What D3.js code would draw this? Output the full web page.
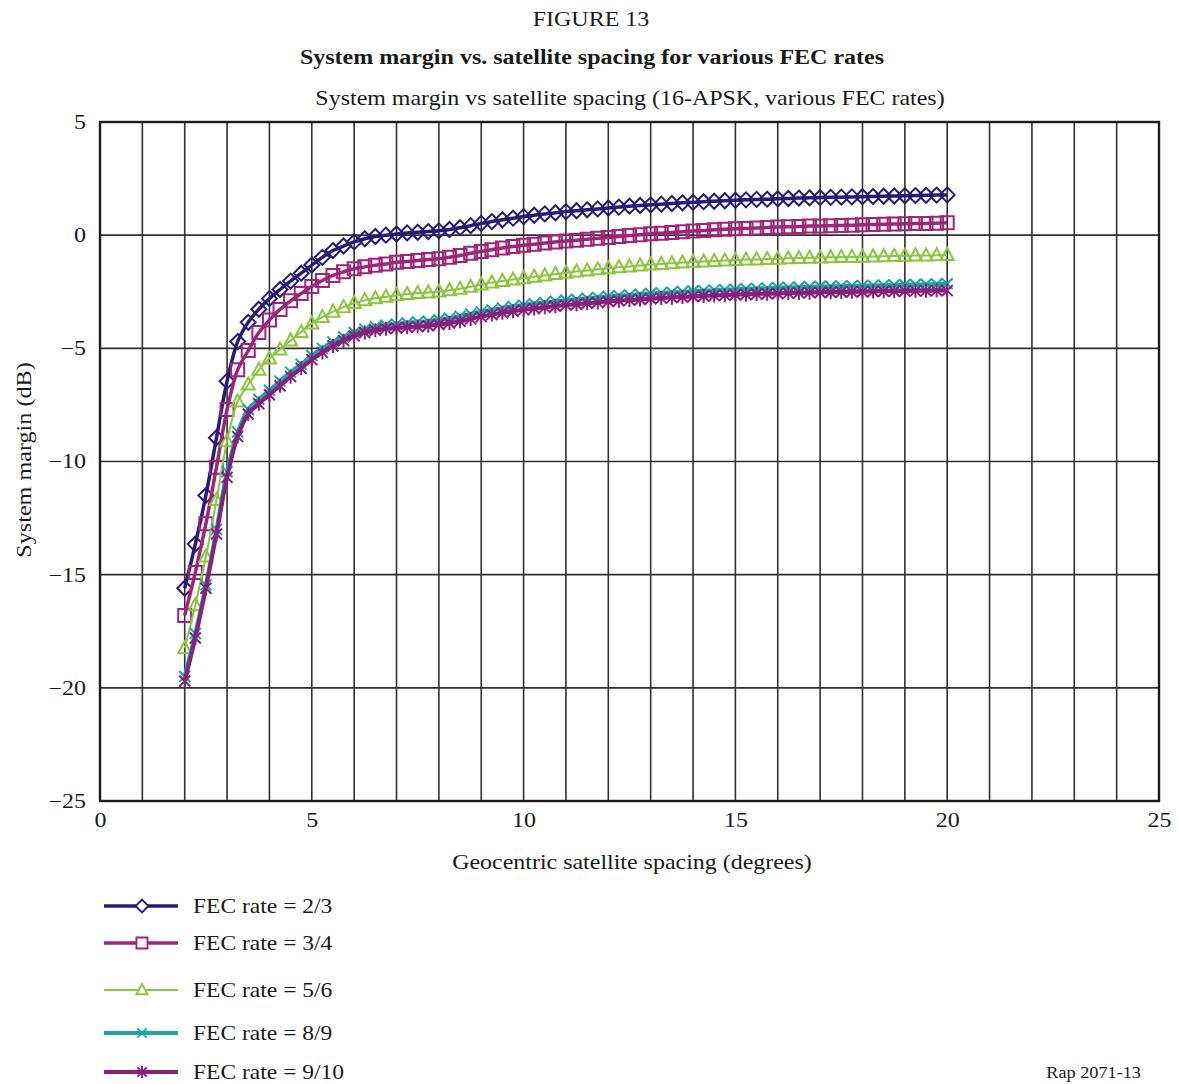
<!DOCTYPE html>
<html>
<head>
<meta charset="utf-8">
<script src="https://cdn.jsdelivr.net/npm/d3@7"></script>
<style>
  html, body { margin: 0; padding: 0; background: #fff; }
  svg { display: block; font-family: "Liberation Serif", "Times New Roman", serif; }
</style>
</head>
<body>
<svg id="chart" width="1179" height="1084"></svg>
<script>
// Geocentric spacing (degrees), 2 to 20 in 0.25° steps
const spacing = d3.range(2, 20.001, 0.25);

// System margin (dB) per FEC rate
const fec23 = [
  -15.6, -13.65, -11.5, -8.95, -6.45, -4.7, -3.85, -3.27, -2.8, -2.4,
  -2.03, -1.68, -1.32, -0.98, -0.68, -0.48, -0.3, -0.16, -0.06, 0.0,
  0.05, 0.1, 0.13, 0.16, 0.19, 0.25, 0.33, 0.42, 0.52, 0.6,
  0.68, 0.75, 0.82, 0.88, 0.94, 0.99, 1.04, 1.08, 1.12, 1.16,
  1.2, 1.24, 1.28, 1.31, 1.34, 1.37, 1.4, 1.43, 1.45, 1.48,
  1.5, 1.52, 1.54, 1.56, 1.58, 1.59, 1.61, 1.62, 1.64, 1.65,
  1.66, 1.67, 1.68, 1.69, 1.7, 1.71, 1.72, 1.73, 1.74, 1.75,
  1.76, 1.77, 1.78
];
const fec34 = [
  -16.8, -14.9, -12.75, -10.25, -7.7, -5.95, -5.1, -4.3, -3.75, -3.28,
  -2.9, -2.58, -2.27, -2.0, -1.78, -1.62, -1.48, -1.4, -1.33, -1.27,
  -1.2, -1.16, -1.12, -1.08, -1.04, -0.98, -0.9, -0.8, -0.72, -0.64,
  -0.57, -0.5, -0.45, -0.4, -0.35, -0.3, -0.26, -0.22, -0.18, -0.14,
  -0.1, -0.06, -0.02, 0.02, 0.06, 0.09, 0.12, 0.15, 0.18, 0.21,
  0.24, 0.26, 0.28, 0.3, 0.32, 0.34, 0.36, 0.37, 0.38, 0.4,
  0.41, 0.42, 0.43, 0.44, 0.46, 0.47, 0.48, 0.49, 0.5, 0.51,
  0.52, 0.53, 0.55
];
const fec56 = [
  -18.25, -16.35, -14.2, -11.7, -9.1, -7.35, -6.6, -5.95, -5.45, -5.05,
  -4.65, -4.28, -3.9, -3.62, -3.38, -3.18, -3.0, -2.88, -2.79, -2.72,
  -2.65, -2.6, -2.56, -2.53, -2.49, -2.43, -2.37, -2.28, -2.18, -2.09,
  -2.02, -1.96, -1.9, -1.84, -1.78, -1.72, -1.66, -1.61, -1.56, -1.51,
  -1.46, -1.42, -1.38, -1.34, -1.3, -1.27, -1.24, -1.21, -1.18, -1.16,
  -1.14, -1.12, -1.1, -1.08, -1.07, -1.05, -1.04, -1.02, -1.01, -1.0,
  -0.99, -0.98, -0.97, -0.96, -0.95, -0.94, -0.93, -0.92, -0.91, -0.9,
  -0.9, -0.89, -0.88
];
const fec89 = [
  -19.5, -17.6, -15.45, -13.0, -10.45, -8.7, -7.7, -7.25, -6.85, -6.45,
  -6.05, -5.7, -5.32, -5.0, -4.72, -4.5, -4.3, -4.15, -4.05, -3.98,
  -3.93, -3.88, -3.84, -3.8, -3.74, -3.67, -3.58, -3.48, -3.39, -3.3,
  -3.22, -3.15, -3.09, -3.03, -2.97, -2.92, -2.87, -2.83, -2.79, -2.75,
  -2.71, -2.67, -2.64, -2.61, -2.58, -2.55, -2.52, -2.5, -2.47, -2.45,
  -2.43, -2.41, -2.39, -2.37, -2.35, -2.34, -2.32, -2.31, -2.29, -2.28,
  -2.27, -2.26, -2.25, -2.24, -2.23, -2.22, -2.21, -2.2, -2.19, -2.18,
  -2.17, -2.16, -2.15
];
const fec910 = [
  -19.7, -17.8, -15.6, -13.2, -10.7, -8.9, -7.9, -7.45, -7.05, -6.65,
  -6.25, -5.88, -5.5, -5.18, -4.9, -4.66, -4.45, -4.3, -4.2, -4.13,
  -4.1, -4.07, -4.04, -4.0, -3.95, -3.88, -3.8, -3.7, -3.6, -3.51,
  -3.43, -3.36, -3.3, -3.24, -3.19, -3.14, -3.09, -3.05, -3.01, -2.97,
  -2.93, -2.9, -2.87, -2.84, -2.81, -2.78, -2.76, -2.73, -2.71, -2.69,
  -2.67, -2.65, -2.63, -2.62, -2.6, -2.59, -2.58, -2.56, -2.55, -2.54,
  -2.53, -2.52, -2.51, -2.5, -2.5, -2.49, -2.48, -2.48, -2.47, -2.46,
  -2.46, -2.45, -2.45
];

const xTicks = [0, 5, 10, 15, 20, 25];
const yTicks = [5, 0, -5, -10, -15, -20, -25];

const series = [
  { name: "FEC rate = 2/3",  values: fec23,  color: "#2a1a78", width: 3.5, marker: "diamond",  legendY: 906 },
  { name: "FEC rate = 3/4",  values: fec34,  color: "#a0237c", width: 3.5, marker: "square",   legendY: 943 },
  { name: "FEC rate = 5/6",  values: fec56,  color: "#8cc63e", width: 2,   marker: "triangle", legendY: 990 },
  { name: "FEC rate = 8/9",  values: fec89,  color: "#19a7a8", width: 4,   marker: "cross",    legendY: 1033 },
  { name: "FEC rate = 9/10", values: fec910, color: "#871f7c", width: 4,   marker: "star",     legendY: 1072 }
];

const svg = d3.select("#chart");
const plot = { left: 100, right: 1159, top: 122, bottom: 801 };
const x = d3.scaleLinear().domain([0, 25]).range([plot.left, plot.right]);
const y = d3.scaleLinear().domain([-25, 5]).range([plot.bottom, plot.top]);

// The typeface set here is a little wider than Liberation Serif: stretch glyphs to width
function widen(sel, factor) {
  sel.each(function () {
    const w = this.getComputedTextLength();
    d3.select(this).attr("textLength", w * factor).attr("lengthAdjust", "spacingAndGlyphs");
  });
  return sel;
}

// Marker shapes, centred on 0,0
const markerPath = {
  diamond:  "M0,-7.5L7.5,0L0,7.5L-7.5,0Z",
  square:   "M-6.5,-6.5H6.5V6.5H-6.5Z",
  triangle: "M0,-7L6.5,5L-6.5,5Z",
  cross:    "M-5.5,-5.5L5.5,5.5M-5.5,5.5L5.5,-5.5",
  star:     "M-5.5,-5.5L5.5,5.5M-5.5,5.5L5.5,-5.5M0,-7V7"
};

// Titles
widen(svg.append("text").attr("x", 591).attr("y", 26).attr("text-anchor", "middle")
  .attr("font-size", 20).attr("fill", "#1a1a1a").text("FIGURE 13"), 1.2);
widen(svg.append("text").attr("x", 592).attr("y", 64).attr("text-anchor", "middle")
  .attr("font-size", 20).attr("font-weight", "bold").attr("fill", "#1a1a1a")
  .text("System margin vs. satellite spacing for various FEC rates"), 1.2);
widen(svg.append("text").attr("x", 630).attr("y", 105).attr("text-anchor", "middle")
  .attr("font-size", 21).attr("fill", "#1a1a1a")
  .text("System margin vs satellite spacing (16-APSK, various FEC rates)"), 1.14);

// Grid
const grid = svg.append("g").attr("stroke", "#33302e").attr("stroke-width", 1.6);
grid.selectAll("line.v").data(d3.range(1, 25)).join("line").attr("class", "v")
  .attr("x1", d => x(d)).attr("x2", d => x(d)).attr("y1", plot.top).attr("y2", plot.bottom);
grid.selectAll("line.h").data(yTicks.filter(v => v > -25 && v < 5)).join("line").attr("class", "h")
  .attr("x1", plot.left).attr("x2", plot.right).attr("y1", d => y(d)).attr("y2", d => y(d));

// Frame
svg.append("rect").attr("x", plot.left).attr("y", plot.top)
  .attr("width", plot.right - plot.left).attr("height", plot.bottom - plot.top)
  .attr("fill", "none").attr("stroke", "#1e1a18").attr("stroke-width", 2.4);

// Axes
const xAxis = svg.append("g").attr("transform", `translate(0,${plot.bottom})`)
  .call(d3.axisBottom(x).tickValues(xTicks).tickSize(0).tickPadding(12).tickFormat(d3.format("d")));
const yAxis = svg.append("g").attr("transform", `translate(${plot.left},0)`)
  .call(d3.axisLeft(y).tickValues(yTicks).tickSize(0).tickPadding(14)
    .tickFormat(d => d < 0 ? "\u2212" + Math.abs(d) : String(d)));
[xAxis, yAxis].forEach(a => {
  a.select(".domain").remove();
  const t = a.selectAll("text").attr("font-family", "Liberation Serif, serif")
    .attr("font-size", 20).attr("fill", "#1a1a1a");
  widen(t, 1.2);
});

widen(svg.append("text").attr("x", 632).attr("y", 869).attr("text-anchor", "middle")
  .attr("font-size", 21).attr("fill", "#1a1a1a").text("Geocentric satellite spacing (degrees)"), 1.14);
widen(svg.append("text").attr("transform", "translate(31,460) rotate(-90)").attr("text-anchor", "middle")
  .attr("font-size", 21).attr("fill", "#1a1a1a").text("System margin (dB)"), 1.15);

// Series
const line = d3.line().x(d => x(d[0])).y(d => y(d[1])).curve(d3.curveCatmullRom.alpha(0.5));
series.forEach(s => {
  const pts = spacing.map((v, i) => [v, s.values[i]]);
  const g = svg.append("g");
  g.append("path").attr("d", line(pts)).attr("fill", "none")
    .attr("stroke", s.color).attr("stroke-width", s.width).attr("stroke-linejoin", "round");
  g.selectAll("path.m").data(pts).join("path").attr("class", "m")
    .attr("transform", d => `translate(${x(d[0])},${y(d[1])})`)
    .attr("d", markerPath[s.marker])
    .attr("fill", "none")
    .attr("stroke", s.color).attr("stroke-width", 2);
});

// Legend
const legend = svg.append("g");
series.forEach(s => {
  const g = legend.append("g").attr("transform", `translate(0,${s.legendY})`);
  g.append("line").attr("x1", 104).attr("x2", 178).attr("y1", 0).attr("y2", 0)
    .attr("stroke", s.color).attr("stroke-width", s.width);
  g.append("path").attr("transform", "translate(142,0) scale(0.85)").attr("d", markerPath[s.marker])
    .attr("fill", "#fff").attr("stroke", s.color).attr("stroke-width", 2.2);
  widen(g.append("text").attr("x", 193).attr("y", 7).attr("font-size", 21).attr("fill", "#1a1a1a")
    .text(s.name), 1.12);
});

widen(svg.append("text").attr("x", 1141).attr("y", 1078).attr("text-anchor", "end")
  .attr("font-size", 16).attr("fill", "#1a1a1a").text("Rap 2071-13"), 1.14);
</script>
</body>
</html>
